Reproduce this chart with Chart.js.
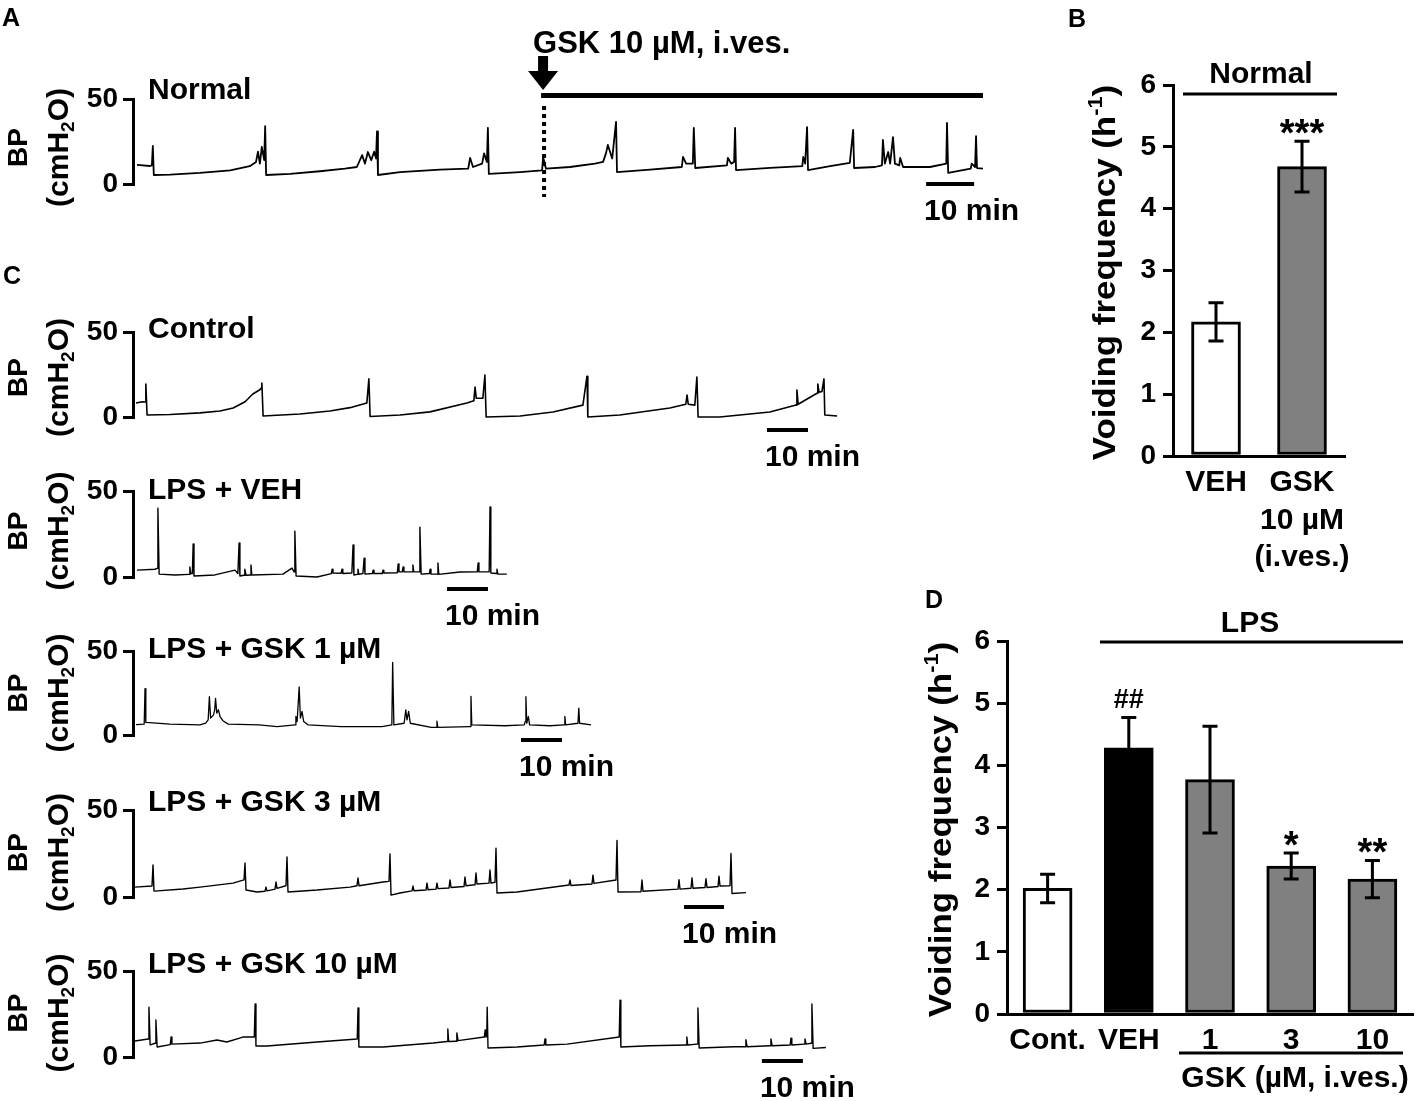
<!DOCTYPE html>
<html><head><meta charset="utf-8"><title>Voiding frequency</title>
<script src="https://cdn.jsdelivr.net/npm/chart.js@4.4.1/dist/chart.umd.min.js"></script>
<style>
html,body{margin:0;padding:0;background:#fff}
#page{position:relative;width:1417px;height:1101px;overflow:hidden;background:#fff}
#page canvas{position:absolute;left:0;top:0}
</style></head>
<body><div id="page"></div>
<script>
// ================= DATA =================
// Cystometry traces: [time (min), bladder pressure (cmH2O)]
const normalTrace = [[0,11.2],[2.7,10.6],[3.1,11],[3.3,22.4],[3.5,5.3],[6.9,5.5],[13.1,6.5],[19.4,8],[23.5,10.5],[24.8,13],[25.2,19],[25.6,12],[26.0,21.8],[26.5,14],[26.7,34],[26.9,5.3],[31.9,6],[38.1,7.5],[43.3,9],[45.8,10],[46.9,17],[47.5,12],[48.1,18.8],[48.8,14],[49.4,19],[49.8,15],[50.0,31],[50.2,5.3],[54.8,7],[63.1,8.5],[69.0,9],[69.4,15.3],[70.0,10],[71.9,12],[72.3,18],[72.9,13],[73.1,33],[73.3,5.9],[79.8,7],[84.4,8],[84.6,15.9],[85.2,9],[90.2,10],[95.4,12],[97.1,13],[97.7,18],[98.1,23],[99.0,15],[99.8,36.5],[100.0,7],[106.9,8.5],[113.5,10],[113.75,15.9],[114.4,12],[115.8,12],[116.0,33],[116.3,9.4],[122.9,11],[123.1,15.3],[123.8,12],[124.4,13],[124.6,33],[124.8,8.2],[131.9,9.5],[138.6,10.5],[138.8,15.9],[139.2,12],[139.6,33.5],[139.8,8.2],[144.4,10.5],[148.5,12.4],[149.2,31.8],[149.4,9.4],[153.75,10],[155.2,11],[155.4,25.9],[155.8,12],[156.5,18.8],[156.9,12],[157.5,27.6],[157.9,12],[158.8,11],[159.0,15.3],[159.6,10],[165.2,10],[168.6,12],[168.75,35.9],[169.0,6.5],[173.7,9],[173.9,12],[174.6,10],[174.8,28.2],[175.0,9.4],[176.25,9]];
const controlTrace = [[0,8.2],[1.5,9],[2.2,8.8],[2.4,19.4],[2.7,1.2],[8.3,1.5],[15.6,2.4],[20.5,3.5],[23.7,5.3],[26.6,9],[28.5,13.5],[30.2,16],[30.5,17],[30.7,20],[31.0,0.6],[40.0,1.8],[47.3,3.5],[52.2,5.5],[56.3,8.2],[56.8,22.4],[57.1,0.3],[64.4,1.2],[71.7,3],[80.7,8.2],[82.4,9.5],[82.7,17.6],[83.0,11],[84.6,11],[85.1,24.7],[85.4,0],[93.7,0.6],[101.7,2.9],[109.0,7],[110.0,24],[110.2,0],[118.0,1.2],[130.2,5.3],[134.1,7.5],[134.4,12.9],[134.7,7.5],[136.3,7],[136.8,23.5],[137.1,0],[142.4,0],[154.6,2.9],[161.0,7],[161.2,15.9],[161.5,7.5],[166.1,14],[166.3,19.4],[166.6,14.5],[167.3,15],[167.8,22.4],[168.0,1.2],[171.0,0.6]];
const lpsVehTrace = [[0,4],[4.4,4.5],[4.9,5],[5.1,40],[5.4,1.7],[9.3,1.2],[12.7,1.5],[12.9,5.8],[13.1,2],[13.5,2],[13.7,19.2],[13.9,0.6],[19.0,1.2],[23.9,4],[24.6,2],[24.9,19.8],[25.1,0.6],[26.1,1],[26.3,4.6],[26.6,1],[27.6,1.2],[27.8,7],[28.0,1.2],[35.6,1.7],[37.8,5.2],[38.3,3],[38.5,26.7],[38.8,0.6],[43.9,0],[47.4,2],[47.6,4.6],[47.8,2.3],[49.8,2.2],[50.0,4.6],[50.2,2],[52.4,2.3],[52.7,18.6],[52.9,1.2],[53.7,1.5],[53.9,4.6],[54.1,1.5],[55.1,2],[55.4,11],[55.6,1.7],[57.4,2],[57.6,4],[57.8,2],[59.8,2],[60.0,4],[60.2,2.3],[63.5,2.5],[63.7,7.6],[63.9,3],[64.7,3],[64.9,5.8],[65.1,3],[67.1,3],[67.3,7],[67.5,3],[68.8,3],[69.0,29],[69.3,1.7],[71.3,2],[71.5,4.5],[71.7,1.7],[73.2,1.7],[73.4,8.1],[73.6,1.5],[78.8,2.9],[83.0,3],[83.2,8.1],[83.4,3],[85.9,3],[86.1,40.7],[86.3,2.3],[87.6,2],[87.8,4.6],[88.0,1.7],[90.2,1.7]];
const lpsGsk1Trace = [[0,6.2],[2.0,6.5],[2.2,27.6],[2.4,7.5],[8.3,6.5],[15.6,6],[17.0,7],[17.6,9],[17.9,22.8],[18.2,10],[18.9,12],[19.2,15],[19.4,21.8],[19.7,13],[20.1,15],[20.5,11],[21.2,8.5],[22.5,6.5],[30,6],[34.4,5],[38.8,6],[39.0,11],[39.3,8],[39.8,28.6],[40.1,10],[40.5,14],[40.9,8],[42,6],[50,5],[60,5],[62.4,6],[62.6,43.2],[62.9,6],[65.4,7],[65.8,15],[66.1,9],[66.5,14],[66.9,7],[72,4.5],[73.2,4.5],[73.4,8.2],[73.6,4.5],[81.5,5],[81.7,23],[81.9,6],[90,5.5],[94.7,6],[94.9,8],[95.1,22.8],[95.3,7],[95.7,11],[96.0,6],[101,5.5],[104.4,6],[104.6,11],[104.8,6],[107.8,7],[108.0,16],[108.2,7],[111,6]];
const lpsGsk3Trace = [[0,5.7],[4.25,6.3],[4.5,18.4],[4.75,3.4],[12,4.6],[16.25,5.7],[24.5,8],[27.25,9.8],[27.5,19.5],[27.75,4],[30.5,2.9],[32.5,3.3],[32.75,5.7],[33,3.5],[35,4.5],[35.25,8.6],[35.5,5],[37.5,6.3],[37.75,6.5],[38,23],[38.25,2.9],[45.5,4],[53.75,5.7],[55.5,6.5],[55.75,10.9],[56,6.5],[62,8.6],[63.5,9],[63.75,24.7],[64,1.1],[66.25,2.3],[69.25,3.5],[69.5,6.3],[69.75,3.6],[72.75,4],[73,8],[73.25,4.2],[75.25,4.5],[75.5,8],[75.75,4.8],[78.5,5.2],[78.75,9.8],[79,5.5],[82.25,6],[82.5,11.5],[82.75,6.5],[85,7],[85.25,13.8],[85.5,7.5],[88.5,8],[88.75,15.5],[89,8],[90,8.5],[90.25,28],[90.5,2.3],[95.5,2.9],[108.5,6.9],[108.75,9.8],[109,6.6],[114.25,7.5],[114.5,12.6],[114.75,7.8],[120.25,9.8],[120.5,32.5],[120.75,2.9],[126.5,3],[126.75,9.8],[127,3.3],[135.75,4.5],[136,10],[136.25,4.5],[139,5],[139.25,11],[139.5,5],[142.5,5.5],[142.75,10.5],[143,5.5],[145.75,6],[146,12],[146.25,6.3],[148.75,6.5],[149,25],[149.25,2],[152.75,2.5]];
const lpsGsk10Trace = [[0,9.3],[3.2,10.5],[3.4,29],[3.7,7],[4.9,8],[5.1,21.5],[5.4,5.8],[8.6,7.2],[8.8,11.6],[9.0,7.5],[15.9,8.1],[20,9.9],[22.4,8.7],[26.3,11.6],[29.1,11.6],[29.3,30.8],[29.5,6.4],[32.2,6.4],[44.4,8.7],[54.2,10.5],[54.4,28.5],[54.6,5.8],[60.5,5.8],[72.7,8.1],[76.1,9],[76.3,16.3],[76.5,9],[78.3,9.2],[78.5,14],[78.8,9.5],[85.2,11.6],[85.4,15.7],[85.6,11.6],[85.8,12],[85.9,29],[86.1,5.2],[93.2,5.8],[99.8,7],[100,10.5],[100.2,7],[105.4,7.5],[118.1,11.6],[118.3,33],[118.5,5.8],[125.6,6.5],[134.4,7],[134.6,11.6],[134.8,7],[137.1,7.5],[137.3,28.5],[137.6,5.2],[146,6],[148.8,6],[149,10],[149.3,6],[154.9,6.5],[155.1,10.5],[155.4,6.5],[159.8,7],[160,11],[160.2,7],[163.2,7.5],[163.4,10.5],[163.7,7.5],[164.9,8],[165.1,30.8],[165.4,5],[168.5,5.5]];

const traceNames = ['Normal', 'Control', 'LPS + VEH', 'LPS + GSK 1 µM', 'LPS + GSK 3 µM', 'LPS + GSK 10 µM'];
const bpTicks = [0, 50];
const scaleBarMinutes = 10;
const scaleBarText = '10 min';
const gskInfusionMin = 84.6;
const gskInfusionText = 'GSK 10 µM, i.ves.';

// Panel B
const bCategories = ['VEH', ['GSK', '10 µM', '(i.ves.)']];
const bMeans = [2.17, 4.68];
const bSem = [0.31, 0.41];
const bMarks = ['', '***'];
const bHeading = 'Normal';

// Panel D
const dCategories = ['Cont.', 'VEH', '1', '3', '10'];
const dMeans = [2.02, 4.28, 3.77, 2.38, 2.17];
const dSem = [0.23, 0.49, 0.86, 0.21, 0.30];
const dMarks = ['', '##', '', '*', '**'];
const dHeading = 'LPS';
const dGroupText = 'GSK (µM, i.ves.)';
const freqTicks = [0, 1, 2, 3, 4, 5, 6];

// ================= STYLE / LAYOUT =================
const PAGE_W = 1417, PAGE_H = 1101;
const FONT = "'Liberation Sans', Arial, Helvetica, sans-serif";
const INK = '#000';

function addCanvas() {
  const c = document.createElement('canvas');
  c.width = PAGE_W; c.height = PAGE_H;
  c.style.width = PAGE_W + 'px'; c.style.height = PAGE_H + 'px';
  document.getElementById('page').appendChild(c);
  return c;
}

// draws text pieces in one run; y = cap-centre (or baseline with valign:'base')
function drawText(ctx, parts, x, y, o = {}) {
  ctx.save();
  ctx.translate(x, y);
  if (o.rotate) ctx.rotate(o.rotate);
  if (o.stretch) ctx.scale(o.stretch, 1);
  ctx.fillStyle = INK; ctx.textAlign = 'left'; ctx.textBaseline = 'alphabetic';
  const ws = [];
  let total = 0;
  parts.forEach(p => { ctx.font = `bold ${p.size}px ${FONT}`; const w = ctx.measureText(p.text).width; ws.push(w); total += w; });
  let cx = o.align === 'left' ? 0 : (o.align === 'right' ? -total : -total / 2);
  const base = o.valign === 'base' ? 0 : parts[0].size * 0.358;
  parts.forEach((p, i) => { ctx.font = `bold ${p.size}px ${FONT}`; ctx.fillText(p.text, cx, base + (p.dy || 0)); cx += ws[i]; });
  ctx.restore();
}
function hLine(ctx, x1, x2, y, w) {
  ctx.save(); ctx.strokeStyle = INK; ctx.lineWidth = w;
  ctx.beginPath(); ctx.moveTo(x1, y); ctx.lineTo(x2, y); ctx.stroke(); ctx.restore();
}

const traceLayouts = [
  {data: normalTrace,  name: traceNames[0], axisX: 133, y50: 99,  y0: 184,  startX: 137, pxPerMin: 4.8, labelY: 88,  barStart: 164.4, barY: 184, lw: 1.8, bpDy: 6},
  {data: controlTrace, name: traceNames[1], axisX: 133, y50: 332, y0: 417,  startX: 136, pxPerMin: 4.1, labelY: 327, barStart: 153.9, barY: 430, lw: 1.6, bpDy: 3},
  {data: lpsVehTrace,  name: traceNames[2], axisX: 133, y50: 491, y0: 577,  startX: 137, pxPerMin: 4.1, labelY: 488, barStart: 75.6,  barY: 589, lw: 1.4, bpDy: -3},
  {data: lpsGsk1Trace, name: traceNames[3], axisX: 133, y50: 651, y0: 735,  startX: 136, pxPerMin: 4.1, labelY: 647, barStart: 93.9,  barY: 740, lw: 1.3, bpDy: 0},
  {data: lpsGsk3Trace, name: traceNames[4], axisX: 133, y50: 810, y0: 897,  startX: 135, pxPerMin: 4.0, labelY: 800, barStart: 137.25,barY: 907, lw: 1.4, bpDy: -1},
  {data: lpsGsk10Trace,name: traceNames[5], axisX: 133, y50: 971, y0: 1057, startX: 135, pxPerMin: 4.1, labelY: 962, barStart: 152.9, barY: 1061, lw: 1.4, bpDy: -1}
];

function normalExtras(chart) {
  const ctx = chart.ctx, xs = chart.scales.x;
  const xg = xs.getPixelForValue(gskInfusionMin);
  const xe = xs.getPixelForValue(xs.max);
  drawText(ctx, [{text: gskInfusionText, size: 31}], xg - 10, 42, {align: 'left'});
  ctx.save(); ctx.fillStyle = INK;
  ctx.fillRect(xg - 5, 56, 10, 17);
  ctx.beginPath(); ctx.moveTo(xg - 15, 71); ctx.lineTo(xg + 15, 71); ctx.lineTo(xg, 90); ctx.closePath(); ctx.fill();
  ctx.restore();
  hLine(ctx, xg - 2, xe, 95.5, 5);
  ctx.save(); ctx.strokeStyle = INK; ctx.lineWidth = 4; ctx.setLineDash([4, 4]);
  ctx.beginPath(); ctx.moveTo(xg + 1, 106); ctx.lineTo(xg + 1, 197); ctx.stroke(); ctx.restore();
  // panel letters
  drawText(ctx, [{text: 'A', size: 25}], 11, 17);
  drawText(ctx, [{text: 'C', size: 25}], 12, 275);
  drawText(ctx, [{text: 'B', size: 25}], 1077, 18);
  drawText(ctx, [{text: 'D', size: 25}], 934, 599);
}

function makeTrace(L, extras) {
  const yW = 60;
  const tMin = -(L.startX - L.axisX) / L.pxPerMin;
  const tMax = L.data[L.data.length - 1][0];
  const right = L.axisX + (tMax - tMin) * L.pxPerMin;
  return new Chart(addCanvas(), {
    type: 'line',
    data: {datasets: [{data: L.data.map(p => ({x: p[0], y: p[1]})), borderColor: INK, borderWidth: L.lw,
      pointRadius: 0, tension: 0, clip: false, borderJoinStyle: 'round', fill: false}]},
    options: {
      responsive: false, animation: false, events: [], devicePixelRatio: 1,
      layout: {padding: {left: L.axisX - yW, right: PAGE_W - right, top: L.y50, bottom: PAGE_H - L.y0}},
      plugins: {legend: {display: false}, tooltip: {enabled: false}},
      scales: {
        x: {type: 'linear', display: false, min: tMin, max: tMax},
        y: {type: 'linear', min: 0, max: 50,
          afterBuildTicks: s => { s.ticks = bpTicks.map(v => ({value: v})); },
          afterFit: s => { s.width = yW; },
          ticks: {color: INK, font: {family: FONT, size: 28, weight: 'bold'}, padding: 5},
          grid: {drawOnChartArea: false, drawTicks: true, tickLength: 10, lineWidth: 3, color: INK},
          border: {display: true, width: 3, color: INK}}
      }
    },
    plugins: [{id: 'traceDecor', afterDraw(chart) {
      const ctx = chart.ctx, xs = chart.scales.x, ys = chart.scales.y;
      const mid = (ys.getPixelForValue(0) + ys.getPixelForValue(50)) / 2 + L.bpDy;
      drawText(ctx, [{text: 'BP', size: 28}], 17, mid, {rotate: -Math.PI / 2});
      drawText(ctx, [{text: '(cmH', size: 30}, {text: '2', size: 19, dy: 6}, {text: 'O)', size: 30}], 57, mid, {rotate: -Math.PI / 2});
      drawText(ctx, [{text: L.name, size: 30}], 148, L.labelY, {align: 'left'});
      const x1 = xs.getPixelForValue(L.barStart), x2 = xs.getPixelForValue(L.barStart + scaleBarMinutes);
      ctx.save(); ctx.fillStyle = INK; ctx.fillRect(x1, L.barY - 2, x2 - x1, 4); ctx.restore();
      drawText(ctx, [{text: scaleBarText, size: 30}], x1 - 2, L.barY + 25, {align: 'left'});
      if (extras) extras(chart);
    }}]
  });
}

const markStyles = {'*': {size: 38, off: 5}, '#': {size: 27, off: -9}};

function makeBars(cfg) {
  const yW = 60;
  return new Chart(addCanvas(), {
    type: 'bar',
    data: {labels: cfg.labels, datasets: [{data: cfg.means, backgroundColor: cfg.colors, borderColor: INK,
      borderWidth: 3, borderSkipped: false, barThickness: 49}]},
    options: {
      responsive: false, animation: false, events: [], devicePixelRatio: 1,
      layout: {padding: {left: cfg.left - yW, right: PAGE_W - cfg.right, top: cfg.top, bottom: PAGE_H - cfg.bottom - cfg.xH}},
      plugins: {legend: {display: false}, tooltip: {enabled: false}},
      scales: {
        x: {type: 'category', offset: true, grid: {display: false, drawTicks: false},
          border: {display: true, width: 3, color: INK},
          ticks: {color: INK, font: {family: FONT, size: 30, weight: 'bold', lineHeight: 1.25}, padding: 8,
            maxRotation: 0, minRotation: 0, autoSkip: false},
          afterFit: s => { s.height = cfg.xH; }},
        y: {type: 'linear', min: 0, max: 6,
          afterBuildTicks: s => { s.ticks = freqTicks.map(v => ({value: v})); },
          afterFit: s => { s.width = yW; },
          ticks: {color: INK, font: {family: FONT, size: 28, weight: 'bold'}, padding: 7},
          grid: {drawOnChartArea: false, drawTicks: true, tickLength: 10, lineWidth: 3, color: INK},
          border: {display: true, width: 3, color: INK}}
      }
    },
    plugins: [{id: 'barDecor',
      afterDatasetsDraw(chart) {
        const ctx = chart.ctx, ys = chart.scales.y, meta = chart.getDatasetMeta(0);
        meta.data.forEach((bar, i) => {
          const top = ys.getPixelForValue(cfg.means[i] + cfg.sem[i]);
          const bot = ys.getPixelForValue(cfg.means[i] - cfg.sem[i]);
          ctx.save(); ctx.strokeStyle = INK; ctx.lineWidth = 3;
          ctx.beginPath();
          ctx.moveTo(bar.x, top); ctx.lineTo(bar.x, bot);
          ctx.moveTo(bar.x - 7.5, top); ctx.lineTo(bar.x + 7.5, top);
          ctx.moveTo(bar.x - 7.5, bot); ctx.lineTo(bar.x + 7.5, bot);
          ctx.stroke(); ctx.restore();
          const m = cfg.marks[i];
          if (m) {
            const st = markStyles[m[0]];
            drawText(ctx, [{text: m, size: st.size}], bar.x, top + st.off, {valign: 'base'});
          }
        });
      },
      afterDraw(chart) {
        const ctx = chart.ctx, ca = chart.chartArea;
        drawText(ctx, [{text: 'Voiding frequency (h', size: 32}, {text: '-1', size: 20, dy: -13}, {text: ')', size: 32}],
          cfg.titleX, (ca.top + ca.bottom) / 2 + 2, {rotate: -Math.PI / 2, stretch: 1.09});
        cfg.decor(chart);
      }}]
  });
}

// ================= BUILD =================
traceLayouts.forEach((L, i) => makeTrace(L, i === 0 ? normalExtras : null));

makeBars({labels: bCategories, means: bMeans, sem: bSem, marks: bMarks, colors: ['#ffffff', '#808080'],
  left: 1173, right: 1345, top: 85, bottom: 456, xH: 140, titleX: 1104,
  decor(chart) {
    const ctx = chart.ctx;
    drawText(ctx, [{text: bHeading, size: 30}], 1261, 72);
    hLine(ctx, 1183, 1337, 94, 3);
  }});

makeBars({labels: dCategories, means: dMeans, sem: dSem, marks: dMarks,
  colors: ['#ffffff', '#000000', '#808080', '#808080', '#808080'],
  left: 1007, right: 1413, top: 641, bottom: 1014, xH: 60, titleX: 940,
  decor(chart) {
    const ctx = chart.ctx;
    drawText(ctx, [{text: dHeading, size: 30}], 1250, 621);
    hLine(ctx, 1100, 1403, 642, 3);
    hLine(ctx, 1179, 1403, 1053, 3);
    drawText(ctx, [{text: dGroupText, size: 30}], 1295, 1076);
  }});
</script>
</body></html>
